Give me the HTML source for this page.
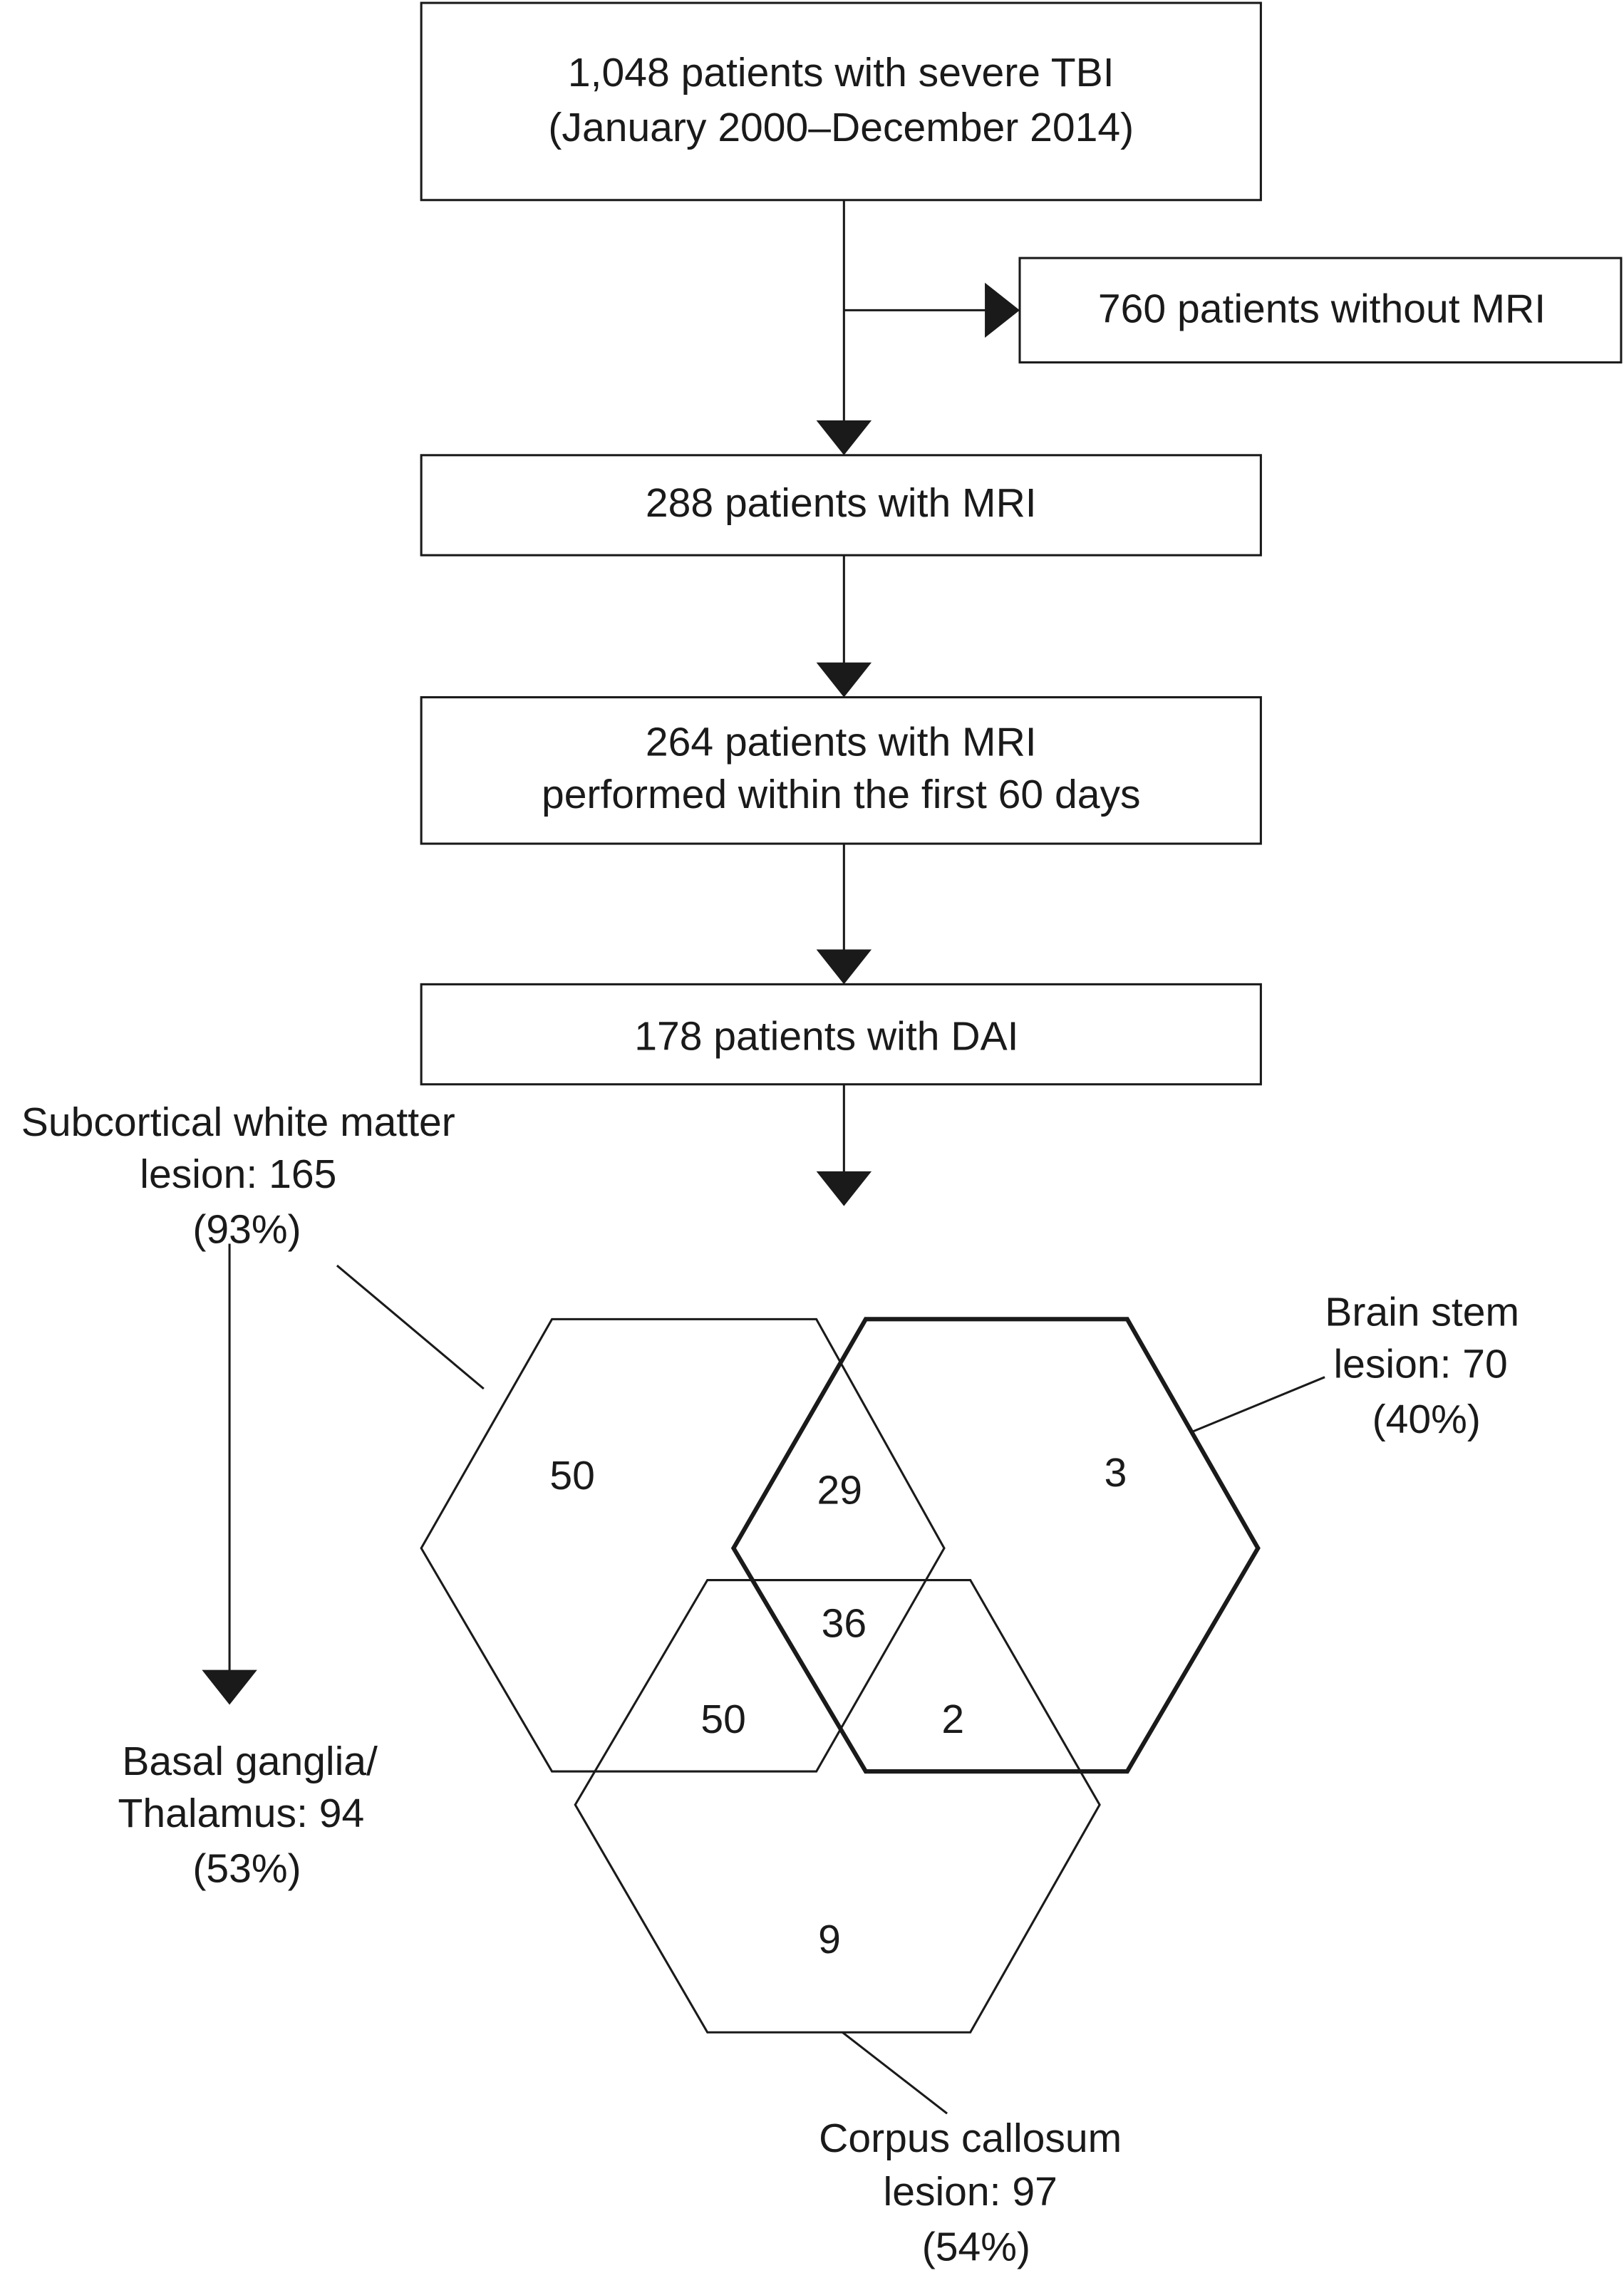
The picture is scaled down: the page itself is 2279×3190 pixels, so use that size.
<!DOCTYPE html>
<html><head><meta charset="utf-8"><style>
html,body{margin:0;padding:0;background:#fff;}
svg{display:block;}
text{font-family:"Liberation Sans",Arial,sans-serif;font-size:28px;fill:#1a1a1a;text-anchor:middle;dominant-baseline:middle;}
</style></head><body>
<svg width="2279" height="3190" viewBox="0 0 1118 1568" preserveAspectRatio="none" xmlns="http://www.w3.org/2000/svg">
<g fill="none" stroke="#1a1a1a" stroke-width="1.5">
<rect x="290" y="2" width="578" height="136"/>
<rect x="702" y="178" width="414" height="72"/>
<rect x="290" y="314" width="578" height="69"/>
<rect x="290" y="481" width="578" height="101"/>
<rect x="290" y="679" width="578" height="69"/>
<line x1="581" y1="138" x2="581" y2="292"/>
<line x1="581" y1="214" x2="680" y2="214"/>
<line x1="581" y1="383" x2="581" y2="458"/>
<line x1="581" y1="582" x2="581" y2="656"/>
<line x1="581" y1="748" x2="581" y2="810"/>
<line x1="158" y1="858" x2="158" y2="1154"/>
<polygon points="380,910 562,910 650,1068 562,1222 380,1222 290,1068"/>
<polygon points="487,1090 668,1090 757,1245 668,1402 487,1402 396,1245"/>
<polygon points="596,910 776,910 866,1068 776,1222 596,1222 505,1068" stroke-width="3"/>
<line x1="232" y1="873" x2="333" y2="958"/>
<line x1="820" y1="988" x2="912" y2="950"/>
<line x1="580" y1="1402" x2="652" y2="1458"/>
</g>
<g fill="#1a1a1a">
<polygon points="562,290 600,290 581,314"/>
<polygon points="678,195 678,233 702,214"/>
<polygon points="562,457 600,457 581,481"/>
<polygon points="562,655 600,655 581,679"/>
<polygon points="562,808 600,808 581,832"/>
<polygon points="139,1152 177,1152 158,1176"/>
</g>
<text x="579" y="52">1,048 patients with severe TBI</text>
<text x="579" y="90">(January 2000–December 2014)</text>
<text x="910" y="215">760 patients without MRI</text>
<text x="579" y="349">288 patients with MRI</text>
<text x="579" y="514">264 patients with MRI</text>
<text x="579" y="550">performed within the first 60 days</text>
<text x="569" y="717">178 patients with DAI</text>
<text x="164" y="776">Subcortical white matter</text>
<text x="164" y="812">lesion: 165</text>
<text x="170" y="850">(93%)</text>
<text x="172" y="1217">Basal ganglia/</text>
<text x="166" y="1253">Thalamus: 94</text>
<text x="170" y="1291">(53%)</text>
<text x="979" y="907">Brain stem</text>
<text x="978" y="943">lesion: 70</text>
<text x="982" y="981">(40%)</text>
<text x="668" y="1477">Corpus callosum</text>
<text x="668" y="1514">lesion: 97</text>
<text x="672" y="1552">(54%)</text>
<text x="394" y="1020">50</text>
<text x="578" y="1030">29</text>
<text x="768" y="1018">3</text>
<text x="581" y="1122">36</text>
<text x="498" y="1188">50</text>
<text x="656" y="1188">2</text>
<text x="571" y="1340">9</text>
</svg>
</body></html>
